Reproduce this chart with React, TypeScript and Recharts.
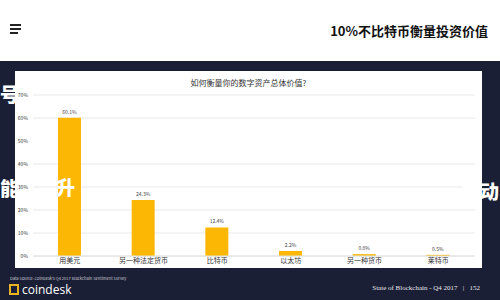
import React from 'react';
import { BarChart, Bar, XAxis, YAxis, CartesianGrid, LabelList } from 'recharts';

const categories = ['用美元', '另一种法定货币', '比特币', '以太坊', '另一种货币', '莱特币'];
const values = [60.1, 24.3, 12.4, 2.2, 0.8, 0.5];
const yTicks = [0, 10, 20, 30, 40, 50, 60, 70];

const data = categories.map((name, i) => ({ name, value: values[i] }));

const NAVY = '#1b1f35';
const GOLD = '#fbb703';

const overlay: React.CSSProperties = {
  position: 'absolute',
  color: '#fff',
  fontFamily: '"Noto Sans CJK SC", sans-serif',
  fontWeight: 900,
  fontSize: 19,
  lineHeight: '20px',
  whiteSpace: 'nowrap',
};

export default function App() {
  return (
    <div
      style={{
        position: 'absolute',
        left: 0,
        top: 0,
        width: 500,
        height: 300,
        overflow: 'hidden',
        background: '#fff',
        fontFamily: '"Noto Sans CJK SC", "Noto Sans", sans-serif',
      }}
    >
      {/* header */}
      <div style={{ position: 'absolute', left: 10, top: 24, width: 11 }}>
        {[0, 4, 8].map((t) => (
          <div
            key={t}
            style={{ position: 'absolute', top: t, left: 0, width: t === 8 ? 8 : 11, height: 2, background: '#222' }}
          />
        ))}
      </div>
      <div
        style={{
          position: 'absolute',
          right: 12,
          top: 21,
          fontSize: 13,
          fontWeight: 700,
          color: '#111',
        }}
      >
        10%不比特币衡量投资价值
      </div>

      {/* dark band */}
      <div style={{ position: 'absolute', left: 0, top: 61, width: 500, height: 239, background: NAVY }} />

      {/* card */}
      <div style={{ position: 'absolute', left: 15, top: 71, width: 467, height: 197, background: '#fff' }}>
        <div
          style={{
            position: 'absolute',
            left: 0,
            top: 6,
            width: 467,
            textAlign: 'center',
            fontSize: 8,
            color: '#333',
          }}
        >
          如何衡量你的数字资产总体价值?
        </div>
        <BarChart width={467} height={197} data={data} margin={{ top: 24, right: 7, bottom: 1, left: 0 }}>
          <CartesianGrid vertical={false} stroke="#e8e8e8" />
          <XAxis
            dataKey="name"
            height={11}
            axisLine={{ stroke: '#e0e0e0' }}
            tickLine={false}
            tickSize={0}
            tickMargin={2}
            interval={0}
            tick={{ fontSize: 7, fill: '#333' }}
          />
          <YAxis
            width={18}
            domain={[0, 70]}
            ticks={yTicks}
            axisLine={false}
            tickLine={false}
            tickSize={0}
            tickMargin={5}
            tickFormatter={(v: number) => `${v}%`}
            tick={{ fontSize: 5, fill: '#333' }}
          />
          <Bar dataKey="value" fill={GOLD} barSize={23} isAnimationActive={false}>
            <LabelList
              dataKey="value"
              position="top"
              offset={4}
              formatter={(v: number) => `${v}%`}
              style={{ fontSize: 5, fill: '#444' }}
            />
          </Bar>
        </BarChart>
      </div>

      {/* white overlay text */}
      <div style={{ ...overlay, left: 0, top: 84 }}>号</div>
      <div style={{ ...overlay, left: 0, top: 178 }}>能</div>
      <div style={{ ...overlay, left: 56, top: 177 }}>升</div>
      <div style={{ ...overlay, left: 461, top: 181 }}>力动</div>

      {/* footer */}
      <div style={{ position: 'absolute', left: 10, top: 275, fontSize: 4, color: '#c8cad4', whiteSpace: 'nowrap' }}>
        Data Source: CoinDesk's Q4 2017 Blockchain Sentiment Survey
      </div>
      <div style={{ position: 'absolute', left: 9, top: 284, width: 10, height: 11, border: '2px solid #e6b422', boxSizing: 'border-box' }} />
      <div
        style={{
          position: 'absolute',
          left: 22,
          top: 281,
          fontSize: 12,
          color: '#fff',
          fontFamily: '"Open Sans", sans-serif',
        }}
      >
        coindesk
      </div>
      <div
        style={{
          position: 'absolute',
          right: 20,
          top: 284,
          fontSize: 7,
          color: '#e8e8ee',
          fontFamily: '"Liberation Serif", serif',
          whiteSpace: 'nowrap',
        }}
      >
        State of Blockchain - Q4 2017 &nbsp;&nbsp;|&nbsp;&nbsp; 152
      </div>
    </div>
  );
}
